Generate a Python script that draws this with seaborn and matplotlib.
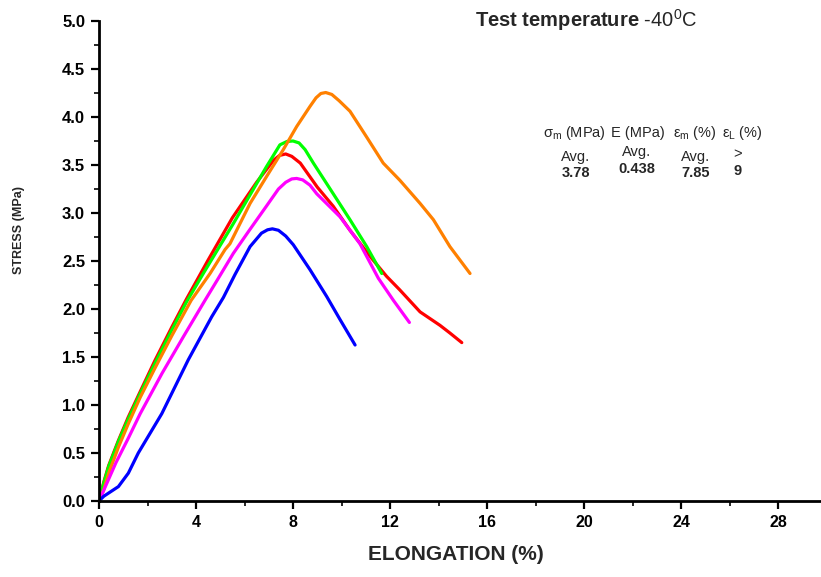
import matplotlib
matplotlib.use("Agg")
import matplotlib.pyplot as plt
from matplotlib import font_manager
from matplotlib.ticker import MultipleLocator
import numpy as np
import pandas as pd
import seaborn as sns

# Tensile test curves at -40 C: elongation (%) vs stress (MPa), one per specimen
strain_red = [0, 0.2, 0.4, 0.8, 1.2, 1.7, 2.3, 3.0, 3.6, 4.5, 5.5, 6.5, 7.2, 7.45, 7.7, 7.95,
              8.3, 9.0, 9.66, 10.35, 11.3, 11.86, 12.4, 13.24, 14.06, 14.47, 14.96]
stress_red = [0, 0.2, 0.37, 0.63, 0.87, 1.14, 1.46, 1.81, 2.1, 2.51, 2.95, 3.32, 3.55, 3.60, 3.615, 3.59,
              3.52, 3.27, 3.07, 2.82, 2.51, 2.34, 2.2, 1.97, 1.83, 1.75, 1.65]

strain_green = [0, 0.2, 0.4, 0.8, 1.2, 1.7, 2.3, 3.0, 3.6, 4.3, 5.54, 6.9, 7.46, 7.75, 8.0,
                8.25, 8.5, 8.84, 9.66, 10.35, 11.04, 11.66]
stress_green = [0, 0.19, 0.36, 0.62, 0.85, 1.12, 1.43, 1.78, 2.07, 2.37, 2.89, 3.48, 3.71, 3.745, 3.75,
                3.73, 3.66, 3.52, 3.20, 2.93, 2.65, 2.37]

strain_orange = [0, 0.2, 0.4, 0.8, 1.2, 1.7, 2.3, 3.0, 3.8, 4.58, 5.2, 5.4, 6.23, 6.91, 7.6,
                 8.15, 8.7, 8.95, 9.15, 9.35, 9.6, 9.9, 10.35, 11.04, 11.72, 12.41, 13.24,
                 13.79, 14.47, 15.30]
stress_orange = [0, 0.12, 0.29, 0.56, 0.80, 1.08, 1.38, 1.72, 2.09, 2.37, 2.62, 2.68, 3.10, 3.38, 3.66,
                 3.90, 4.11, 4.20, 4.245, 4.255, 4.235, 4.17, 4.06, 3.79, 3.52, 3.34, 3.10,
                 2.93, 2.65, 2.37]

strain_magenta = [0, 0.35, 0.7, 1.2, 1.7, 2.6, 3.5, 4.37, 4.85, 5.54, 6.2, 6.9, 7.4, 7.7,
                  7.95, 8.15, 8.4, 8.7, 8.98, 9.94, 10.76, 11.52, 12.14, 12.80]
stress_magenta = [0, 0.2, 0.4, 0.65, 0.91, 1.33, 1.72, 2.09, 2.29, 2.58, 2.82, 3.07, 3.25, 3.32,
                  3.355, 3.36, 3.345, 3.29, 3.20, 2.96, 2.68, 2.32, 2.09, 1.86]

strain_blue = [0, 0.2, 0.38, 0.8, 1.21, 1.62, 2.59, 3.68, 4.65, 5.13, 5.61, 6.23, 6.7, 6.95,
               7.15, 7.4, 7.7, 8.01, 8.7, 9.39, 9.94, 10.56]
stress_blue = [0, 0.05, 0.08, 0.15, 0.29, 0.5, 0.91, 1.47, 1.92, 2.12, 2.36, 2.65, 2.79, 2.825,
               2.835, 2.82, 2.76, 2.67, 2.41, 2.13, 1.89, 1.625]

specimens = ["red", "green", "orange", "magenta", "blue"]
colors = ["#ff0000", "#00ff00", "#ff8000", "#ff00ff", "#0000ff"]

# Summary values shown in the table
avg_sigma_m = "3.78"
avg_E = "0.438"
avg_eps_m = "7.85"
eps_L = "9"

x_ticks = [0, 4, 8, 12, 16, 20, 24, 28]
y_ticks = [0.0, 0.5, 1.0, 1.5, 2.0, 2.5, 3.0, 3.5, 4.0, 4.5, 5.0]

curves = {
    "red": (strain_red, stress_red),
    "green": (strain_green, stress_green),
    "orange": (strain_orange, stress_orange),
    "magenta": (strain_magenta, stress_magenta),
    "blue": (strain_blue, stress_blue),
}
frames = []
for name in specimens:
    xs, ys = curves[name]
    frames.append(pd.DataFrame({"strain": xs, "stress": ys, "specimen": name}))
df = pd.concat(frames, ignore_index=True)

sns.set_style("ticks")
plt.rcParams["font.family"] = ["Liberation Sans", "DejaVu Sans"]
plt.rcParams["mathtext.fontset"] = "custom"
plt.rcParams["mathtext.rm"] = "Liberation Sans"
plt.rcParams["mathtext.it"] = "Liberation Sans"
plt.rcParams["mathtext.bf"] = "Liberation Sans:bold"

# condensed face for the axis titles, if available
try:
    font_manager.findfont(font_manager.FontProperties(family="Liberation Sans Narrow"),
                          fallback_to_default=False)
    narrow = ["Liberation Sans Narrow", "Liberation Sans"]
    narrow_size, ylab_size = 13, 10
except Exception:
    narrow = ["Liberation Sans"]
    narrow_size, ylab_size = 11.5, 9

W, H = 821, 577
fig = plt.figure(figsize=(W / 100, H / 100), dpi=100)
ax = fig.add_axes([99 / W, (H - 501) / H, (W - 99) / W, 480 / H])

sns.lineplot(data=df, x="strain", y="stress", hue="specimen", units="specimen",
             estimator=None, sort=False, palette=dict(zip(specimens, colors)),
             hue_order=specimens, linewidth=2.3, legend=False, ax=ax)

ax.set_xlim(0, (W - 99) / 24.25)
ax.set_ylim(0, 5.0)
ax.set_xticks(x_ticks)
ax.set_yticks(y_ticks)
ax.set_xticklabels([str(t) for t in x_ticks], fontweight="bold", fontsize=narrow_size,
                   family=narrow)
ax.set_yticklabels([f"{t:.1f}" for t in y_ticks], fontweight="bold", fontsize=12)
ax.xaxis.set_minor_locator(MultipleLocator(2))
ax.yaxis.set_minor_locator(MultipleLocator(0.25))
ax.tick_params(which="major", direction="out", length=6, width=1.6, pad=4, colors="black")
ax.tick_params(which="minor", direction="out", length=3.5, width=1.4)
for side in ("top", "right"):
    ax.spines[side].set_visible(False)
for side in ("left", "bottom"):
    ax.spines[side].set_linewidth(2.0)
    ax.spines[side].set_color("black")
ax.set_xlabel("")
ax.set_ylabel("")


def px(x, y):
    return x / W, 1 - y / H


fig.text(*px(456, 554), "ELONGATION (%)", fontsize=15, fontweight="bold", family=narrow,
         ha="center", va="center")
fig.text(*px(19, 230), "STRESS (MPa)", fontsize=ylab_size, fontweight="bold", family=narrow,
         rotation=90, ha="center", va="center")

fig.text(*px(475, 27), r"$\mathbf{Test\ temperature}$ -40$^{0}$C", fontsize=14.5,
         ha="left", va="baseline")

hdr = 10.5
fig.text(*px(543, 137), r"$\sigma_{\mathrm{m}}$ (MPa)", fontsize=hdr, ha="left", va="baseline")
fig.text(*px(611, 137), "E (MPa)", fontsize=hdr, ha="left", va="baseline")
fig.text(*px(673, 137), r"$\varepsilon_{\mathrm{m}}$ (%)", fontsize=hdr, ha="left", va="baseline")
fig.text(*px(722, 137), r"$\varepsilon_{\mathrm{L}}$ (%)", fontsize=hdr, ha="left", va="baseline")

fig.text(*px(576, 161), "Avg.", fontsize=hdr, ha="center", va="baseline")
fig.text(*px(637, 156), "Avg.", fontsize=hdr, ha="center", va="baseline")
fig.text(*px(696, 161), "Avg.", fontsize=hdr, ha="center", va="baseline")
fig.text(*px(738, 158), ">", fontsize=hdr, ha="center", va="baseline")

fig.text(*px(576, 177), avg_sigma_m, fontsize=hdr, fontweight="bold", ha="center", va="baseline")
fig.text(*px(637, 173), avg_E, fontsize=hdr, fontweight="bold", ha="center", va="baseline")
fig.text(*px(696, 177), avg_eps_m, fontsize=hdr, fontweight="bold", ha="center", va="baseline")
fig.text(*px(738, 175), eps_L, fontsize=hdr, fontweight="bold", ha="center", va="baseline")

fig.savefig("out.png", dpi=100)
